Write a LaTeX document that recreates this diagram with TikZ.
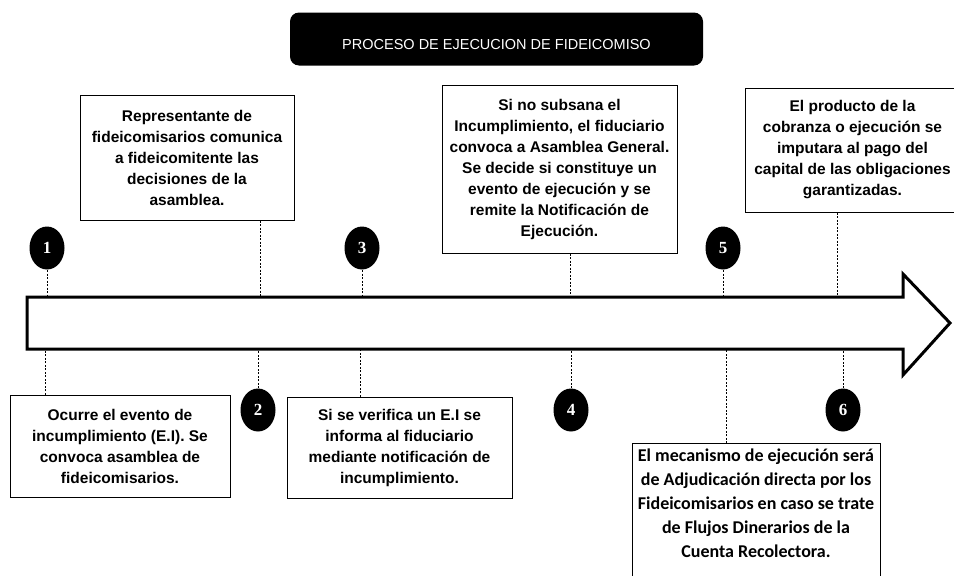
\documentclass[tikz,border=0pt]{standalone}
\usepackage{fontspec}
\setmainfont{Liberation Sans}
\newfontfamily\calfont{Carlito}
\newfontfamily\numfont{Liberation Serif}
\usetikzlibrary{shapes.geometric}

\begin{document}
\begin{tikzpicture}[x=1pt,y=-1pt]
\tikzstyle{every path}=[line width=1pt]
\tikzstyle{stepbox}=[draw,rectangle,align=center,inner sep=3pt,
  font=\fontsize{15.5}{21}\selectfont\bfseries]
\tikzstyle{stepnum}=[ellipse,fill=black,text=white,minimum width=35pt,
  minimum height=43pt,inner sep=0pt,font=\numfont\fontsize{17}{17}\selectfont\bfseries]
\tikzstyle{link}=[dash pattern=on 2pt off 1.5pt,line width=0.8pt]

\useasboundingbox (0,0) rectangle (954,576);

%% Title bar
\node[fill=black,rounded corners=9pt,minimum width=413pt,minimum height=53pt,
  text=white,text height=22pt,text depth=2pt,
  font=\fontsize{14.5}{14.5}\selectfont] (title) at (496.5,39)
  {PROCESO DE EJECUCION DE FIDEICOMISO};

%% Big arrow
\coordinate (atop) at (0,297);
\coordinate (abot) at (0,349);
\draw[line width=3pt,fill=white] (27,297) -- (903,297) -- (903,274) -- (950,323)
  -- (903,375) -- (903,349) -- (27,349) -- cycle;

%% Boxes above the arrow
\node[stepbox,minimum width=214pt,minimum height=125pt] (rep) at (187,157.5)
  {Representante de\\ fideicomisarios comunica\\ a fideicomitente las\\
   decisiones de la\\ asamblea.};
\node[stepbox,minimum width=235pt,minimum height=168pt] (sub) at (559.5,169)
  {Si no subsana el\\ Incumplimiento, el fiduciario\\ convoca a Asamblea General.\\
   Se decide si constituye un\\ evento de ejecución y se\\ remite la Notificación de\\
   Ejecución.};
\node[stepbox,minimum width=215pt,minimum height=124pt] (prod) at (852.5,150)
  {El producto de la\\ cobranza o ejecución se\\ imputara al pago del\\
   capital de las obligaciones\\ garantizadas.};

%% Boxes below the arrow
\node[stepbox,minimum width=220pt,minimum height=102pt] (ocu) at (120,446)
  {Ocurre el evento de\\ incumplimiento (E.I). Se\\ convoca asamblea de\\
   fideicomisarios.};
\node[stepbox,minimum width=225pt,minimum height=101pt] (ver) at (399.5,447.5)
  {Si se verifica un E.I se\\ informa al fiduciario\\ mediante notificación de\\
   incumplimiento.};
\node[stepbox,anchor=north,minimum width=248pt,inner ysep=5pt,
  font=\calfont\fontsize{18}{24}\selectfont\bfseries] (mec) at (756,443)
  {El mecanismo de ejecución será\\ de Adjudicación directa por los\\
   Fideicomisarios en caso se trate\\ de Flujos Dinerarios de la\\
   Cuenta Recolectora.\\ \strut};

%% Numbered steps
\foreach \n/\x/\y in {1/47/248,3/362/248,5/723/248,2/258/410,4/571/410,6/843/410}
  \node[stepnum] (c\n) at (\x,\y) {\n};

%% Dashed links to the arrow
\foreach \n in {1,3,5}
  \draw[link] (c\n) -- (c\n |- atop);
\foreach \n in {2,4,6}
  \draw[link] (c\n) -- (c\n |- abot);

\coordinate (rep-foot) at ([xshift=73pt]rep.south);
\coordinate (sub-foot) at ([xshift=10.5pt]sub.south);
\coordinate (prod-foot) at ([xshift=-15.5pt]prod.south);
\coordinate (ocu-head) at ([xshift=-75pt]ocu.north);
\coordinate (ver-head) at ([xshift=-39.5pt]ver.north);
\coordinate (mec-head) at ([xshift=-30pt]mec.north);
\foreach \b in {rep,sub,prod}
  \draw[link] (\b-foot) -- (\b-foot |- atop);
\foreach \b in {ocu,ver,mec}
  \draw[link] (\b-head) -- (\b-head |- abot);

\end{tikzpicture}
\end{document}
